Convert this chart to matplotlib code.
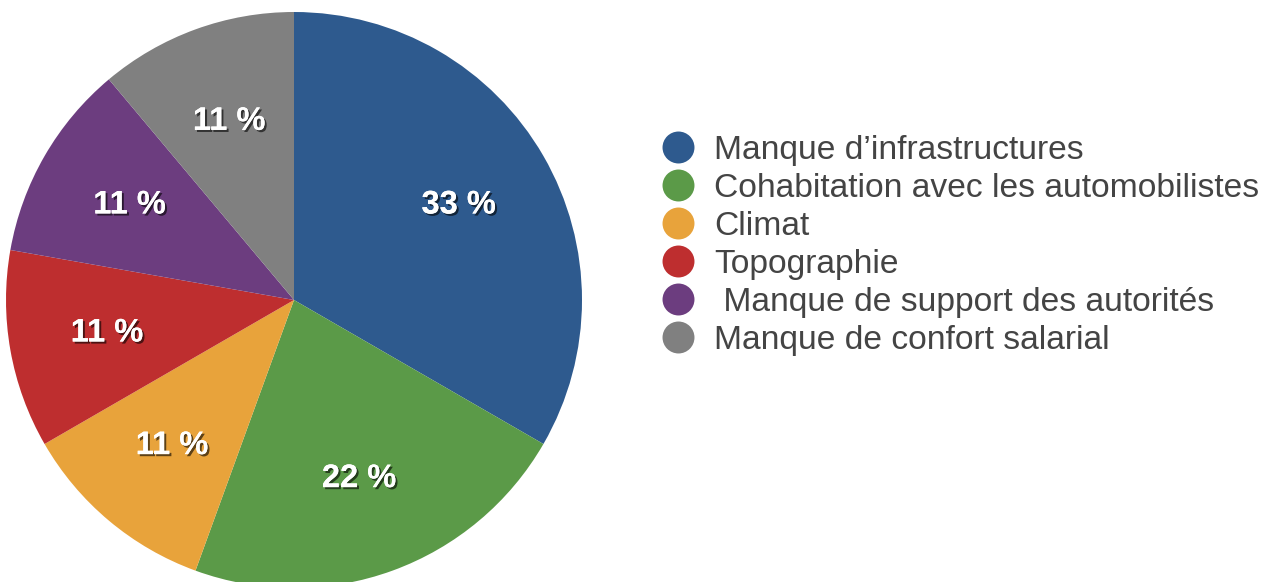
import matplotlib.pyplot as plt
import matplotlib.patheffects as pe
from matplotlib.lines import Line2D

labels = ["Manque d\u2019infrastructures", "Cohabitation avec les automobilistes",
          "Climat", "Topographie", " Manque de support des autorit\u00e9s",
          "Manque de confort salarial"]
values = [3, 2, 1, 1, 1, 1]
colors = ["#2E5A8E", "#5B9A48", "#E8A33B", "#BE2E2F", "#6C3D7F", "#808080"]

plt.rcParams['font.family'] = ['Liberation Sans', 'DejaVu Sans']

W, H = 1278, 582
fig = plt.figure(figsize=(W / 100, H / 100), dpi=100)

cx, cy, r = 294, 300, 288
ax = fig.add_axes([(cx - r) / W, (H - cy - r) / H, 2 * r / W, 2 * r / H])
wedges, texts, autotexts = ax.pie(
    values, colors=colors, startangle=90, counterclock=False,
    autopct=lambda p: f"{p:.0f} %", pctdistance=0.66, radius=1,
    wedgeprops=dict(linewidth=0))
ax.set_xlim(-1, 1)
ax.set_ylim(-1, 1)
ax.set_aspect('equal')

shadow = [pe.withSimplePatchShadow(offset=(1.5, -1.5), shadow_rgbFace='black', alpha=0.6),
          pe.Normal()]
for t in autotexts:
    t.set_color('white')
    t.set_fontsize(23.5)
    t.set_fontweight('bold')
    t.set_path_effects(shadow)

handles = [Line2D([], [], marker='o', linestyle='none', markersize=23,
                  markerfacecolor=c, markeredgewidth=0) for c in colors]
leg = fig.legend(handles, labels, loc='upper left',
                 bbox_to_anchor=(644 / W, 1 - 118 / H), frameon=False,
                 fontsize=24.2, labelspacing=0.21, handletextpad=0.59,
                 handlelength=1.0, borderpad=0)
for t in leg.get_texts():
    t.set_color('#444444')

fig.savefig('out.png', dpi=100)
